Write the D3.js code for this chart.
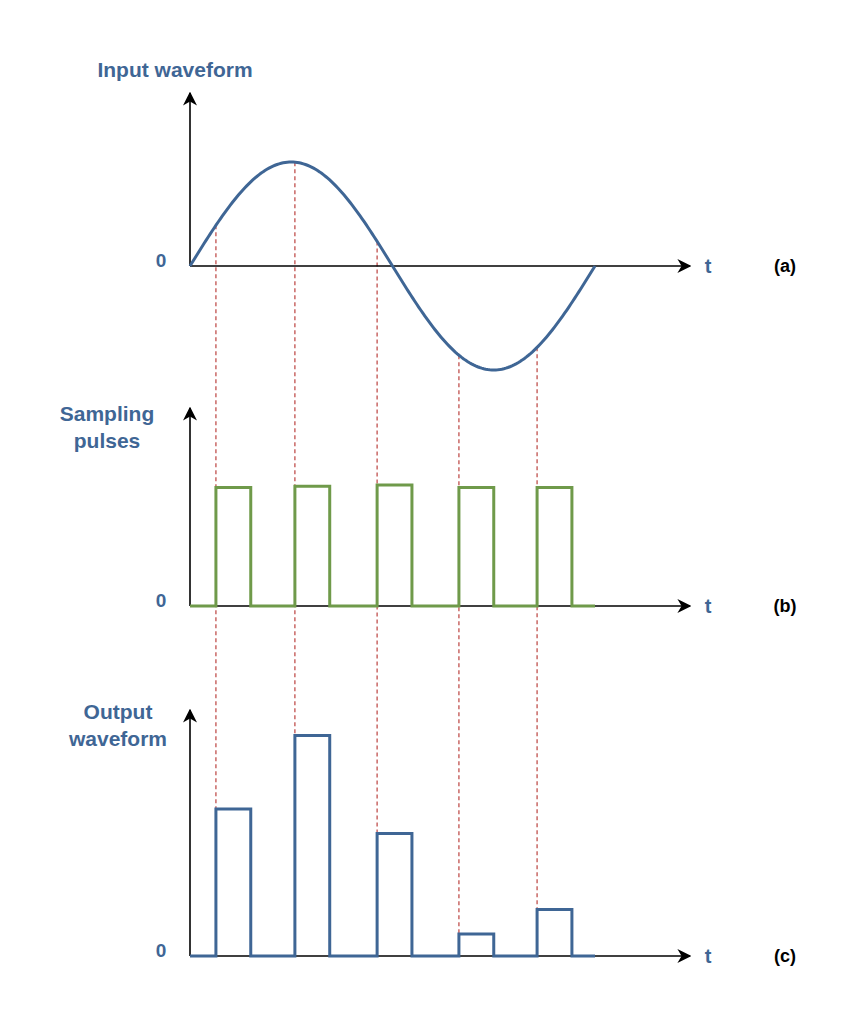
<!DOCTYPE html>
<html><head><meta charset="utf-8">
<script src="https://cdn.jsdelivr.net/npm/d3@7"></script>
<style>body{margin:0;background:#fff}text{font-family:Arial,"Liberation Sans",sans-serif;font-weight:bold}</style>
</head><body>
<svg id="c" width="863" height="1024"></svg>
<script>
// time in % of one input period
const sampleTimes = [6.4, 25.9, 46.2, 66.4, 85.7];
const pulseWidth = 8.6;
const pulseLevels = [0.94, 0.95, 0.96, 0.94, 0.94];
const outputLevels = [0.60, 0.90, 0.50, 0.09, 0.19];
const panels = [
  {label: ["Input waveform"], tag: "(a)"},
  {label: ["Sampling", "pulses"], tag: "(b)"},
  {label: ["Output", "waveform"], tag: "(c)"}
];

const blue = "#3f6695", green = "#6f9a4a", red = "#c0504d";
const svg = d3.select("#c");
svg.append("defs").append("marker").attr("id", "arr")
  .attr("viewBox", "0 0 10 10").attr("refX", 9).attr("refY", 5)
  .attr("markerWidth", 14).attr("markerHeight", 14).attr("orient", "auto-start-reverse")
  .attr("markerUnits", "userSpaceOnUse")
  .append("path").attr("d", "M0,0 L10,5 L0,10 L3,5 Z").attr("fill", "#000");

const x = d3.scaleLinear().domain([0, 100]).range([190, 595]);
const yA = d3.scaleLinear().domain([-1, 1]).range([370, 162]);
const yB = d3.scaleLinear().domain([0, 1]).range([606, 480]);
const yC = d3.scaleLinear().domain([0, 1]).range([956, 711]);
const zeros = [yA(0), yB(0), yC(0)];
const tops = [93, 408, 710];

// dashed sample lines
svg.selectAll(".samp").data(sampleTimes).join("line")
  .attr("x1", d => x(d)).attr("x2", d => x(d))
  .attr("y1", d => yA(Math.sin(2 * Math.PI * d / 100))).attr("y2", yC(0))
  .attr("stroke", red).attr("stroke-width", 1.3).attr("stroke-dasharray", "4,3");

// axes
zeros.forEach((z, i) => {
  svg.append("line").attr("x1", x(0)).attr("x2", 690).attr("y1", z).attr("y2", z)
    .attr("stroke", "#000").attr("stroke-width", 1.6).attr("marker-end", "url(#arr)");
  svg.append("line").attr("x1", x(0)).attr("x2", x(0)).attr("y1", z).attr("y2", tops[i])
    .attr("stroke", "#000").attr("stroke-width", 1.6).attr("marker-end", "url(#arr)");
  svg.append("text").attr("x", 161).attr("y", z - 6).attr("dy", "0.35em").attr("text-anchor", "middle")
    .attr("fill", blue).attr("font-size", 19).text("0");
  svg.append("text").attr("x", 708).attr("y", z).attr("dy", "0.35em").attr("text-anchor", "middle")
    .attr("fill", blue).attr("font-size", 20).text("t");
  svg.append("text").attr("x", 785).attr("y", z).attr("dy", "0.35em").attr("text-anchor", "middle")
    .attr("fill", "#000").attr("font-size", 18).text(panels[i].tag);
});

// labels
svg.append("text").attr("x", 175).attr("y", 77).attr("text-anchor", "middle")
  .attr("fill", blue).attr("font-size", 21).text(panels[0].label[0]);
[[107, 421], [118, 719]].forEach(([cx, cy], k) => {
  panels[k + 1].label.forEach((s, j) => svg.append("text").attr("x", cx).attr("y", cy + j * 27)
    .attr("text-anchor", "middle").attr("fill", blue).attr("font-size", 21).text(s));
});

// sine
svg.append("path").datum(d3.range(0, 100.01, 0.5))
  .attr("d", d3.line().x(d => x(d)).y(d => yA(Math.sin(2 * Math.PI * d / 100))))
  .attr("fill", "none").attr("stroke", blue).attr("stroke-width", 3);

function pulseTrain(levels, y) {
  const pts = [[0, 0]];
  sampleTimes.forEach((t, i) => {
    pts.push([t, 0], [t, levels[i]], [t + pulseWidth, levels[i]], [t + pulseWidth, 0]);
  });
  pts.push([100, 0]);
  return d3.line().x(d => x(d[0])).y(d => y(d[1]))(pts);
}
svg.append("path").attr("d", pulseTrain(pulseLevels, yB))
  .attr("fill", "none").attr("stroke", green).attr("stroke-width", 3);
svg.append("path").attr("d", pulseTrain(outputLevels, yC))
  .attr("fill", "none").attr("stroke", blue).attr("stroke-width", 3);
</script></body></html>
